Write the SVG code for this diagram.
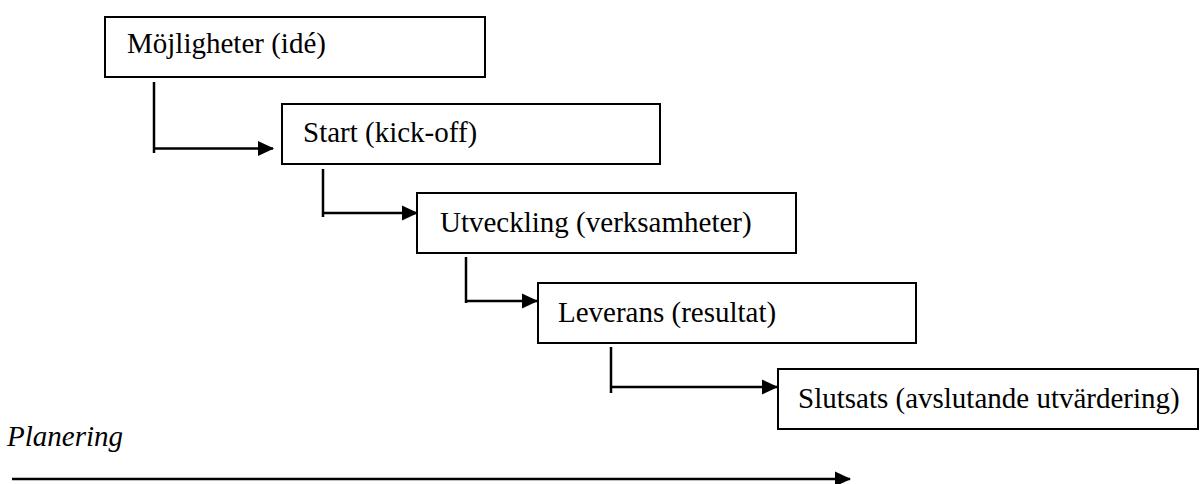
<svg xmlns="http://www.w3.org/2000/svg" width="1200" height="484" viewBox="0 0 1200 484">
<style>
.box{fill:#fff;stroke:#000;stroke-width:2}
.lbl{font-size:29px;fill:#000}
.it{font-style:italic}
.conn{fill:none;stroke:#000;stroke-width:2.5}
</style>
<defs>
<marker id="arr" markerUnits="userSpaceOnUse" markerWidth="17" markerHeight="17" refX="15" refY="8" orient="auto">
<path d="M0,0.5 L16,8 L0,15.5 z" fill="#000"/>
</marker>
</defs>
<rect width="1200" height="484" fill="#fff"/>
<g id="connectors">
<path class="conn" d="M154,82 V153"/>
<path class="conn" d="M154,148.5 H273" marker-end="url(#arr)"/>
<path class="conn" d="M323,169 V217"/>
<path class="conn" d="M323,213 H417" marker-end="url(#arr)"/>
<path class="conn" d="M466,257 V303"/>
<path class="conn" d="M466,301 H537" marker-end="url(#arr)"/>
<path class="conn" d="M611,347 V393"/>
<path class="conn" d="M611,387 H777" marker-end="url(#arr)"/>
<path class="conn" d="M12,479 H850" marker-end="url(#arr)"/>
</g>
<g font-family="Liberation Serif, Times New Roman, serif">
<g id="n1"><rect class="box" x="105" y="17" width="380" height="60"/><text class="lbl" x="127" y="53">Möjligheter (idé)</text></g>
<g id="n2"><rect class="box" x="282" y="104" width="378" height="60"/><text class="lbl" x="303" y="142">Start (kick-off)</text></g>
<g id="n3"><rect class="box" x="417" y="193" width="379" height="60"/><text class="lbl" x="440" y="232">Utveckling (verksamheter)</text></g>
<g id="n4"><rect class="box" x="538" y="283" width="378" height="60"/><text class="lbl" x="558" y="322">Leverans (resultat)</text></g>
<g id="n5"><rect class="box" x="778" y="369" width="420" height="60"/><text class="lbl" x="798" y="408">Slutsats (avslutande utvärdering)</text></g>
<g id="planering"><text class="lbl it" x="7" y="446">Planering</text></g>
</g>
</svg>
